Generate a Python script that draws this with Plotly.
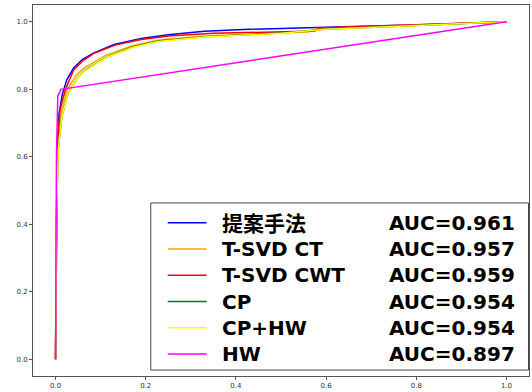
import plotly.graph_objects as go

W, H = 532, 392
L, R, T, B = 33, 2, 5, 14

names = ["提案手法", "T-SVD CT", "T-SVD CWT", "CP", "CP+HW", "HW"]
aucs = ["0.961", "0.957", "0.959", "0.954", "0.954", "0.897"]
colors = ["blue", "orange", "red", "green", "yellow", "magenta"]

blue_x = [0, 0.002, 0.004, 0.008, 0.015, 0.025, 0.04, 0.06, 0.085, 0.13, 0.19, 0.25, 0.33, 0.43, 0.59, 0.7, 0.85, 1.0]
blue_y = [0, 0.45, 0.65, 0.73, 0.785, 0.828, 0.863, 0.889, 0.908, 0.933, 0.951, 0.962, 0.972, 0.978, 0.985, 0.988, 0.993, 1.0]

orange_x = [0, 0.002, 0.005, 0.012, 0.026, 0.045, 0.062, 0.11, 0.17, 0.23, 0.33, 0.43, 0.56, 0.58, 0.7, 0.85, 1.0]
orange_y = [0, 0.45, 0.63, 0.73, 0.80, 0.84, 0.862, 0.900, 0.929, 0.946, 0.958, 0.963, 0.970, 0.980, 0.986, 0.992, 1.0]

red_x = [0, 0.002, 0.004, 0.01, 0.022, 0.04, 0.062, 0.084, 0.132, 0.19, 0.25, 0.35, 0.45, 0.575, 0.585, 0.7, 0.85, 1.0]
red_y = [0, 0.45, 0.64, 0.74, 0.80, 0.857, 0.886, 0.906, 0.931, 0.948, 0.958, 0.966, 0.970, 0.973, 0.982, 0.987, 0.992, 1.0]

green_x = [0, 0.002, 0.006, 0.014, 0.028, 0.05, 0.065, 0.114, 0.172, 0.227, 0.33, 0.43, 0.5, 0.6, 0.75, 0.9, 1.0]
green_y = [0, 0.42, 0.62, 0.72, 0.79, 0.836, 0.856, 0.896, 0.926, 0.943, 0.956, 0.962, 0.967, 0.978, 0.987, 0.994, 1.0]

yellow_x = [0, 0.002, 0.006, 0.014, 0.028, 0.05, 0.065, 0.114, 0.172, 0.227, 0.33, 0.43, 0.5, 0.6, 0.75, 0.9, 1.0]
yellow_y = [0, 0.42, 0.62, 0.72, 0.79, 0.835, 0.855, 0.895, 0.925, 0.942, 0.955, 0.961, 0.966, 0.978, 0.987, 0.994, 1.0]

hw_x = [0, 0.002, 0.005, 0.012, 1.0]
hw_y = [0, 0.60, 0.78, 0.80, 1.0]

xs = [blue_x, orange_x, red_x, green_x, yellow_x, hw_x]
ys = [blue_y, orange_y, red_y, green_y, yellow_y, hw_y]

tick_vals = [0.0, 0.2, 0.4, 0.6, 0.8, 1.0]
tick_text = ["0.0", "0.2", "0.4", "0.6", "0.8", "1.0"]

fig = go.Figure()
for x, y, c, n in zip(xs, ys, colors, names):
    fig.add_trace(go.Scatter(x=x, y=y, mode="lines", name=n,
                             line=dict(color=c, width=1.5), showlegend=False))

pw, ph = W - L - R, H - T - B
def px(xp):
    return (xp - L) / pw
def py(yp):
    return (H - B - yp) / ph

shapes = [dict(type="rect", xref="paper", yref="paper",
               x0=px(151), x1=px(529.5), y0=py(372), y1=py(204),
               line=dict(color="#444", width=1), fillcolor="white", layer="above")]
annotations = []
row0, dy = 224, 26.4
latin = dict(family="DejaVu Sans", size=20, color="black")
cjk = dict(family="Noto Sans CJK JP", size=21, color="black")
for i, (n, a, c) in enumerate(zip(names, aucs, colors)):
    yy = row0 + i * dy
    shapes.append(dict(type="line", xref="paper", yref="paper",
                       x0=px(168), x1=px(207), y0=py(yy), y1=py(yy),
                       line=dict(color=c, width=1.5), layer="above"))
    is_cjk = any(ord(ch) > 0x3000 for ch in n)
    annotations.append(dict(xref="paper", yref="paper", x=px(222),
                            y=py(yy - (0.6 if is_cjk else 0)),
                            text="<b>" + n + "</b>", showarrow=False,
                            xanchor="left", yanchor="middle",
                            borderpad=0, borderwidth=0,
                            font=cjk if is_cjk else latin))
    annotations.append(dict(xref="paper", yref="paper", x=px(516), y=py(yy),
                            text="<b>AUC=" + a + "</b>", showarrow=False,
                            xanchor="right", yanchor="middle",
                            borderpad=0, borderwidth=0, font=latin))

axis_common = dict(showgrid=False, zeroline=False, showline=True, mirror=True,
                   linecolor="#555", linewidth=1, ticks="outside", ticklen=3,
                   tickcolor="#555", tickfont=dict(family="DejaVu Sans", size=7, color="#333"))
fig.update_layout(
    width=W, height=H, margin=dict(l=L, r=R, t=T, b=B),
    paper_bgcolor="white", plot_bgcolor="white",
    xaxis=dict(range=[-0.05, 1.05], tickvals=tick_vals, ticktext=tick_text, **axis_common),
    yaxis=dict(range=[-0.05, 1.05], tickvals=tick_vals, ticktext=tick_text, **axis_common),
    shapes=shapes, annotations=annotations, showlegend=False,
)
fig.write_html("out.html")
